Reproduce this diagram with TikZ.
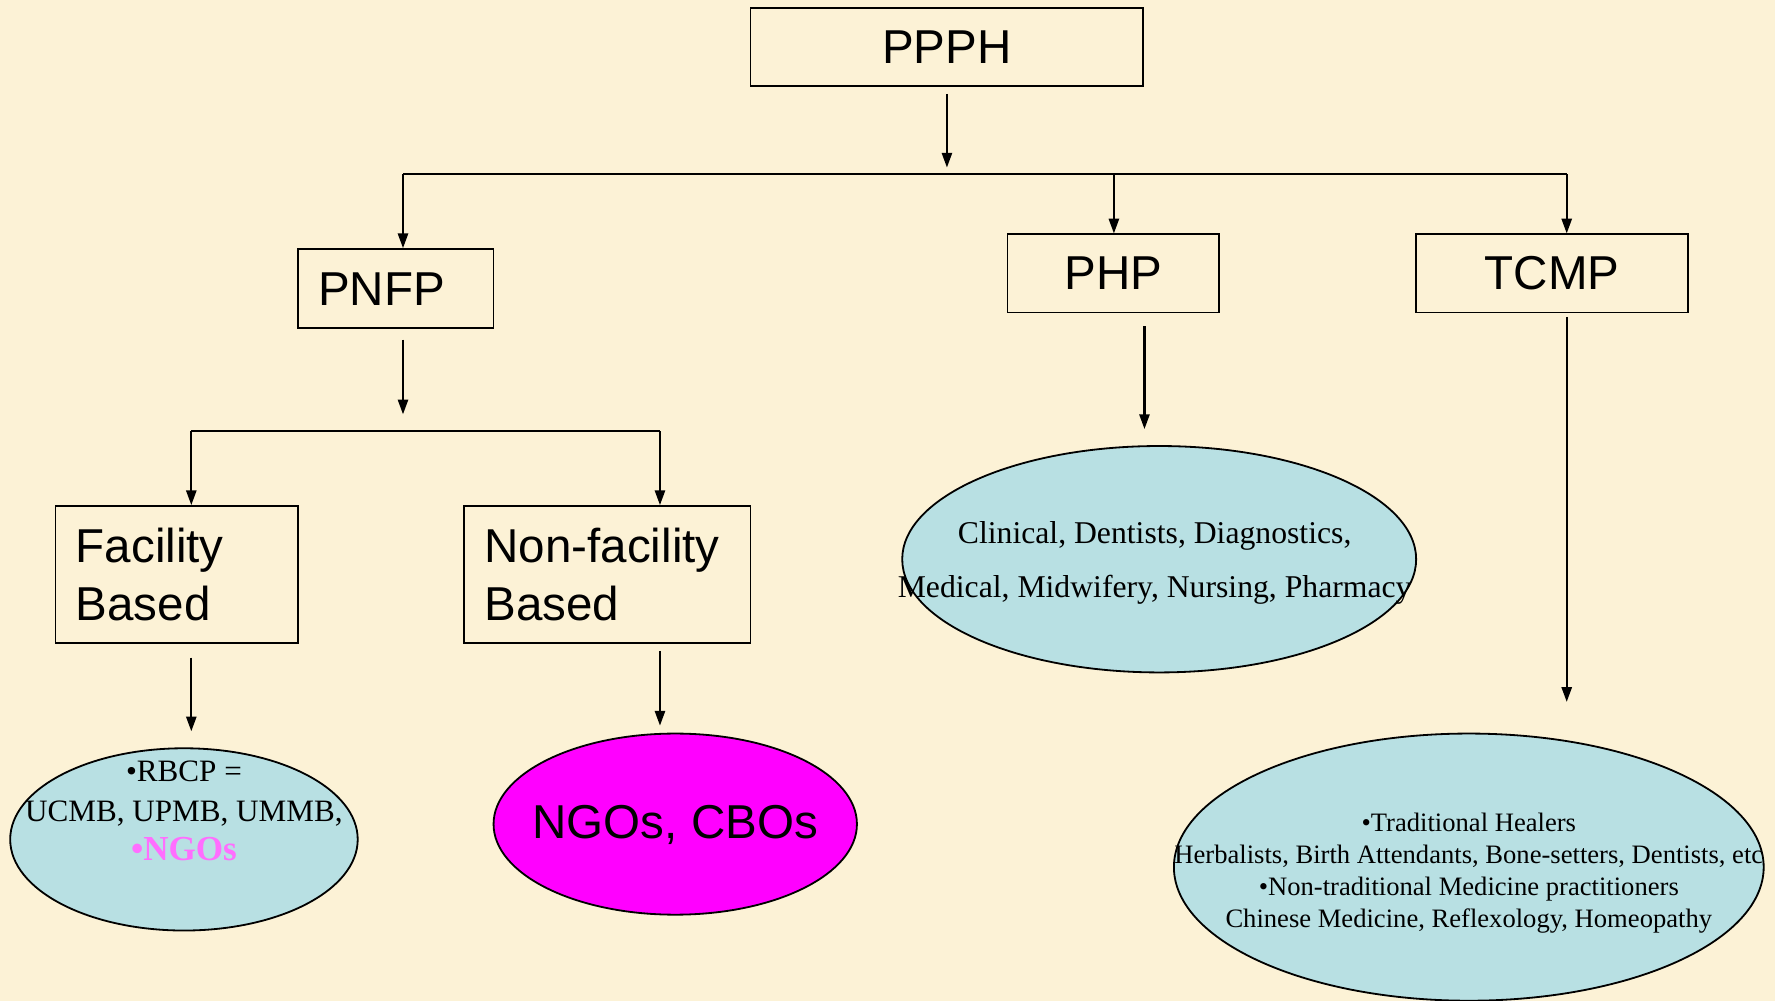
\documentclass[tikz,border=0pt]{standalone}
\usepackage{fontspec}
\setmainfont{Liberation Serif}
\newfontfamily\arialf{Liberation Sans}
\usetikzlibrary{arrows.meta,shapes.geometric}
\definecolor{bgc}{RGB}{252,242,214}
\definecolor{lblue}{RGB}{184,224,227}
\definecolor{mag}{RGB}{255,0,255}
\definecolor{pinkt}{RGB}{255,110,255}
\tikzset{
  x=1pt,y=-1pt,
  boxn/.style={draw,line width=1.6pt,rectangle,inner sep=0pt,font=\arialf\fontsize{42}{51}\selectfont},
  lboxn/.style={boxn,inner xsep=18pt,align=left},
  elln/.style={draw,line width=1.6pt,ellipse,inner sep=0pt},
  arr/.style={line width=1.8pt,-{Triangle[length=13pt,width=9pt]}},
  ln/.style={line width=1.8pt},
  etext/.style={align=center,inner sep=0pt}
}
\begin{document}
\begin{tikzpicture}
\fill[bgc] (0,0) rectangle (1568,884);
\useasboundingbox (0,0) rectangle (1568,884);

% boxes
\node[boxn,minimum width=347pt,minimum height=69pt] (ppph) at (836.5,41.5) {PPPH};
\node[lboxn,minimum width=173pt,minimum height=70pt,text width=137pt] (pnfp) at (349.5,255) {PNFP};
\node[boxn,minimum width=187pt,minimum height=69pt] (php) at (983.5,241.5) {PHP};
\node[boxn,minimum width=240pt,minimum height=69pt] (tcmp) at (1371,241.5) {TCMP};
\node[lboxn,minimum width=214pt,minimum height=121pt,text width=178pt] (fac) at (156,507.5) {Facility\\Based};
\node[lboxn,minimum width=253pt,minimum height=121pt,text width=217pt] (nfac) at (536.5,507.5) {Non-facility\\Based};

% ellipses
\node[elln,fill=lblue,minimum width=307pt,minimum height=161pt] (e1) at (162.5,741.5) {};
\node[elln,fill=mag,minimum width=321pt,minimum height=160pt] (e2) at (596.5,728) {};
\node[elln,fill=lblue,minimum width=454pt,minimum height=200pt] (e3) at (1024,494) {};
\node[elln,fill=lblue,minimum width=521pt,minimum height=236pt] (e4) at (1297.5,766) {};

\node[etext,font=\fontsize{27.5}{35}\selectfont] (t1) at (162.5,716.5) {\textbullet RBCP =\\UCMB, UPMB, UMMB,\\{\color{pinkt}\bfseries\fontsize{31}{37}\selectfont \textbullet NGOs}};
\node[etext,font=\arialf\fontsize{42}{50}\selectfont] (t2) at (596.5,729) {NGOs, CBOs};
\node[etext,font=\fontsize{28}{48}\selectfont] (t3) at (1020,497) {Clinical, Dentists, Diagnostics,\\Medical, Midwifery, Nursing, Pharmacy};
\node[etext,font=\fontsize{23.5}{28.4}\selectfont] (t4) at (1297.5,771.5) {\textbullet Traditional Healers\\Herbalists, Birth Attendants, Bone-setters, Dentists, etc\\\textbullet Non-traditional Medicine practitioners\\Chinese Medicine, Reflexology, Homeopathy};

% top level connectors
\coordinate (a0) at (836.5,83);
\coordinate (a1) at (836.5,148);
\draw[arr] (a0) -- (a1);
\coordinate (busL) at (356,154);
\coordinate (busM) at (984,154);
\coordinate (busR) at (1384,154);
\draw[ln] (busL) -- (busR);
\draw[arr] (busL) -- (busL |- pnfp.north);
\draw[arr] (busM) -- (busM |- php.north);
\draw[arr] (busR) -- (busR |- tcmp.north);

% PNFP branch
\coordinate (b0) at (356,300);
\coordinate (b1) at (356,366);
\draw[arr] (b0) -- (b1);
\coordinate (bus2L) at (169,381);
\coordinate (bus2R) at (583,381);
\draw[ln] (bus2L) -- (bus2R);
\draw[arr] (bus2L) -- (bus2L |- fac.north);
\draw[arr] (bus2R) -- (bus2R |- nfac.north);

% to ellipses
\coordinate (c0) at (169,581);
\coordinate (c1) at (169,646);
\draw[arr] (c0) -- (c1);
\coordinate (d0) at (583,575);
\coordinate (d1) at (583,641);
\draw[arr] (d0) -- (d1);
\coordinate (f0) at (1011,288);
\coordinate (f1) at (1011,379);
\draw[arr] (f0) -- (f1);
\coordinate (g0) at (1384,280);
\coordinate (g1) at (1384,620);
\draw[arr] (g0) -- (g1);
\end{tikzpicture}
\end{document}
